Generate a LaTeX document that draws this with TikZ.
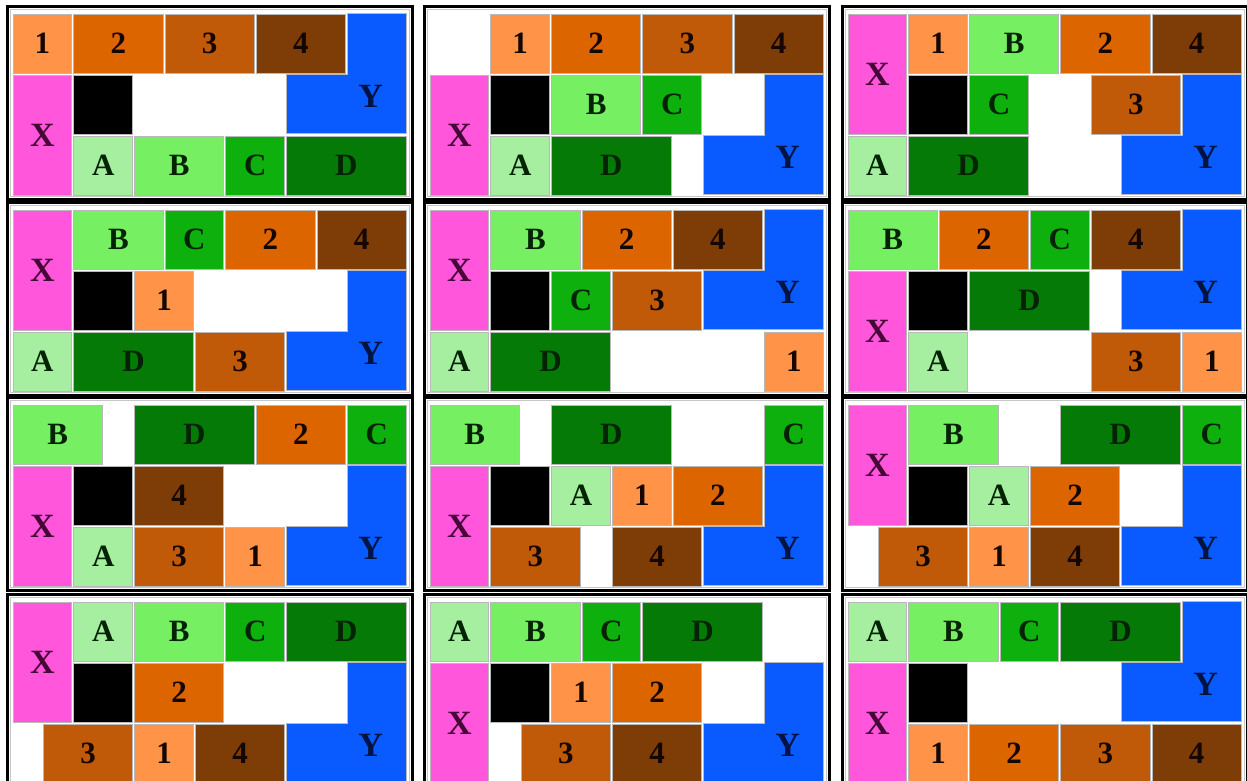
\documentclass[tikz,border=0pt]{standalone}
\usepackage{fontspec}
\setmainfont{Liberation Serif}
\definecolor{cX}{HTML}{FF56DC}
\definecolor{cY}{HTML}{0A5BFF}
\definecolor{cA}{HTML}{A6EFA0}
\definecolor{cB}{HTML}{76F062}
\definecolor{cC}{HTML}{0DB00D}
\definecolor{cD}{HTML}{067A06}
\definecolor{cP}{HTML}{FF9448}
\definecolor{cQ}{HTML}{DC6500}
\definecolor{cR}{HTML}{C05A08}
\definecolor{cS}{HTML}{7E3C06}
\definecolor{tX}{HTML}{460636}
\definecolor{tY}{HTML}{001444}
\definecolor{tG}{HTML}{042204}
\definecolor{tN}{HTML}{140600}
\def\ux{60.8}
\def\uy{61}
% kinds: w, h, label
\def\wX{1}\def\hX{2}\def\lX{X}
\def\wK{1}\def\hK{1}\def\lK{}
\def\wA{1}\def\hA{1}\def\lA{A}
\def\wB{1.5}\def\hB{1}\def\lB{B}
\def\wC{1}\def\hC{1}\def\lC{C}
\def\wD{2}\def\hD{1}\def\lD{D}
\def\wP{1}\def\hP{1}\def\lP{1}
\def\wQ{1.5}\def\hQ{1}\def\lQ{2}
\def\wR{1.5}\def\hR{1}\def\lR{3}
\def\wS{1.5}\def\hS{1}\def\lS{4}
\tikzset{
  piece/.style={draw=gray!55, line width=1pt, inner sep=0pt, font=\bfseries\fontsize{31}{31}\selectfont},
  big/.style={font=\bfseries\fontsize{34}{34}\selectfont},
  kX/.style={fill=cX, text=tX, big},
  kK/.style={fill=black},
  kA/.style={fill=cA, text=tG},
  kB/.style={fill=cB, text=tG},
  kC/.style={fill=cC, text=tG},
  kD/.style={fill=cD, text=tG},
  kP/.style={fill=cP, text=tN},
  kQ/.style={fill=cQ, text=tN},
  kR/.style={fill=cR, text=tN},
  kS/.style={fill=cS, text=tN},
  ypath/.style={draw=gray!55, line width=1pt, fill=cY},
  ylabel/.style={inner sep=0pt, text=tY, big},
  frame/.style={draw=black, line width=3pt},
  innerframe/.style={draw=gray!45, line width=0.8pt}
}
% piece: #1 kind, #2 x, #3 y (units)
\newcommand\pc[3]{%
  \pgfmathsetmacro\pcW{\csname w#1\endcsname*\ux-2}%
  \pgfmathsetmacro\pcH{\csname h#1\endcsname*\uy-2}%
  \pgfmathsetmacro\pcX{\ox+(#2+\csname w#1\endcsname/2)*\ux}%
  \pgfmathsetmacro\pcY{\oy+(#3+\csname h#1\endcsname/2)*\uy+1}%
  \node[piece,k#1,minimum width=\pcW pt,minimum height=\pcH pt] (\pn-#1) at (\pcX,\pcY) {\csname l#1\endcsname};}
% Y L-shape: #1 top row
\newcommand\py[1]{%
  \pgfmathsetmacro\yl{\ox+4.5*\ux+1}%
  \pgfmathsetmacro\ym{\ox+5.5*\ux+1}%
  \pgfmathsetmacro\yr{\ox+6.5*\ux-1}%
  \pgfmathsetmacro\yt{\oy+#1*\uy+1}%
  \pgfmathsetmacro\yc{\oy+(#1+1)*\uy+1}%
  \pgfmathsetmacro\yb{\oy+(#1+2)*\uy-1}%
  \path[ypath] (\ym,\yt) -- (\yr,\yt) -- (\yr,\yb) -- (\yl,\yb) -- (\yl,\yc) -- (\ym,\yc) -- cycle;
  \pgfmathsetmacro\yx{\ox+5.9*\ux}%
  \pgfmathsetmacro\yy{\oy+(#1+1.38)*\uy}%
  \node[ylabel] (\pn-Y) at (\yx,\yy) {Y};}
% panel: #1 name, #2 ox, #3 oy, #4 body
\newcommand\panel[4]{%
  \def\pn{#1}\def\ox{#2}\def\oy{#3}%
  \pgfmathsetmacro\fr{#2+6.5*\ux}%
  \pgfmathsetmacro\fb{#3+3*\uy}%
  \draw[frame] (#2-5,#3-5.5) rectangle (\fr+5,\fb+4);
  \draw[innerframe] (#2-2,#3-2.5) rectangle (\fr+2,\fb+1.5);
  #4}
\begin{document}
\begin{tikzpicture}[x=1pt,y=-1pt]
\useasboundingbox (0,0) rectangle (1247,780);
\clip (0,0) rectangle (1247,780);
\fill[white] (0,0) rectangle (1247,780);
% row 1
\panel{p1}{12}{12}{%
  \pc{P}{0}{0}\pc{Q}{1}{0}\pc{R}{2.5}{0}\pc{S}{4}{0}\py{0}
  \pc{X}{0}{1}\pc{K}{1}{1}
  \pc{A}{1}{2}\pc{B}{2}{2}\pc{C}{3.5}{2}\pc{D}{4.5}{2}}
\panel{p2}{429}{12}{%
  \pc{P}{1}{0}\pc{Q}{2}{0}\pc{R}{3.5}{0}\pc{S}{5}{0}
  \pc{X}{0}{1}\pc{K}{1}{1}\pc{B}{2}{1}\pc{C}{3.5}{1}\py{1}
  \pc{A}{1}{2}\pc{D}{2}{2}}
\panel{p3}{847}{12}{%
  \pc{X}{0}{0}\pc{P}{1}{0}\pc{B}{2}{0}\pc{Q}{3.5}{0}\pc{S}{5}{0}
  \pc{K}{1}{1}\pc{C}{2}{1}\pc{R}{4}{1}\py{1}
  \pc{A}{0}{2}\pc{D}{1}{2}}
% row 2
\panel{p4}{12}{208}{%
  \pc{X}{0}{0}\pc{B}{1}{0}\pc{C}{2.5}{0}\pc{Q}{3.5}{0}\pc{S}{5}{0}
  \pc{K}{1}{1}\pc{P}{2}{1}\py{1}
  \pc{A}{0}{2}\pc{D}{1}{2}\pc{R}{3}{2}}
\panel{p5}{429}{208}{%
  \pc{X}{0}{0}\pc{B}{1}{0}\pc{Q}{2.5}{0}\pc{S}{4}{0}\py{0}
  \pc{K}{1}{1}\pc{C}{2}{1}\pc{R}{3}{1}
  \pc{A}{0}{2}\pc{D}{1}{2}\pc{P}{5.5}{2}}
\panel{p6}{847}{208}{%
  \pc{B}{0}{0}\pc{Q}{1.5}{0}\pc{C}{3}{0}\pc{S}{4}{0}\py{0}
  \pc{X}{0}{1}\pc{K}{1}{1}\pc{D}{2}{1}
  \pc{A}{1}{2}\pc{R}{4}{2}\pc{P}{5.5}{2}}
% row 3
\panel{p7}{12}{403}{%
  \pc{B}{0}{0}\pc{D}{2}{0}\pc{Q}{4}{0}\pc{C}{5.5}{0}
  \pc{X}{0}{1}\pc{K}{1}{1}\pc{S}{2}{1}\py{1}
  \pc{A}{1}{2}\pc{R}{2}{2}\pc{P}{3.5}{2}}
\panel{p8}{429}{403}{%
  \pc{B}{0}{0}\pc{D}{2}{0}\pc{C}{5.5}{0}
  \pc{X}{0}{1}\pc{K}{1}{1}\pc{A}{2}{1}\pc{P}{3}{1}\pc{Q}{4}{1}\py{1}
  \pc{R}{1}{2}\pc{S}{3}{2}}
\panel{p9}{847}{403}{%
  \pc{X}{0}{0}\pc{B}{1}{0}\pc{D}{3.5}{0}\pc{C}{5.5}{0}
  \pc{K}{1}{1}\pc{A}{2}{1}\pc{Q}{3}{1}\py{1}
  \pc{R}{0.5}{2}\pc{P}{2}{2}\pc{S}{3}{2}}
% row 4
\panel{p10}{12}{600}{%
  \pc{X}{0}{0}\pc{A}{1}{0}\pc{B}{2}{0}\pc{C}{3.5}{0}\pc{D}{4.5}{0}
  \pc{K}{1}{1}\pc{Q}{2}{1}\py{1}
  \pc{R}{0.5}{2}\pc{P}{2}{2}\pc{S}{3}{2}}
\panel{p11}{429}{600}{%
  \pc{A}{0}{0}\pc{B}{1}{0}\pc{C}{2.5}{0}\pc{D}{3.5}{0}
  \pc{X}{0}{1}\pc{K}{1}{1}\pc{P}{2}{1}\pc{Q}{3}{1}\py{1}
  \pc{R}{1.5}{2}\pc{S}{3}{2}}
\panel{p12}{847}{600}{%
  \pc{A}{0}{0}\pc{B}{1}{0}\pc{C}{2.5}{0}\pc{D}{3.5}{0}\py{0}
  \pc{X}{0}{1}\pc{K}{1}{1}
  \pc{P}{1}{2}\pc{Q}{2}{2}\pc{R}{3.5}{2}\pc{S}{5}{2}}
\end{tikzpicture}
\end{document}
